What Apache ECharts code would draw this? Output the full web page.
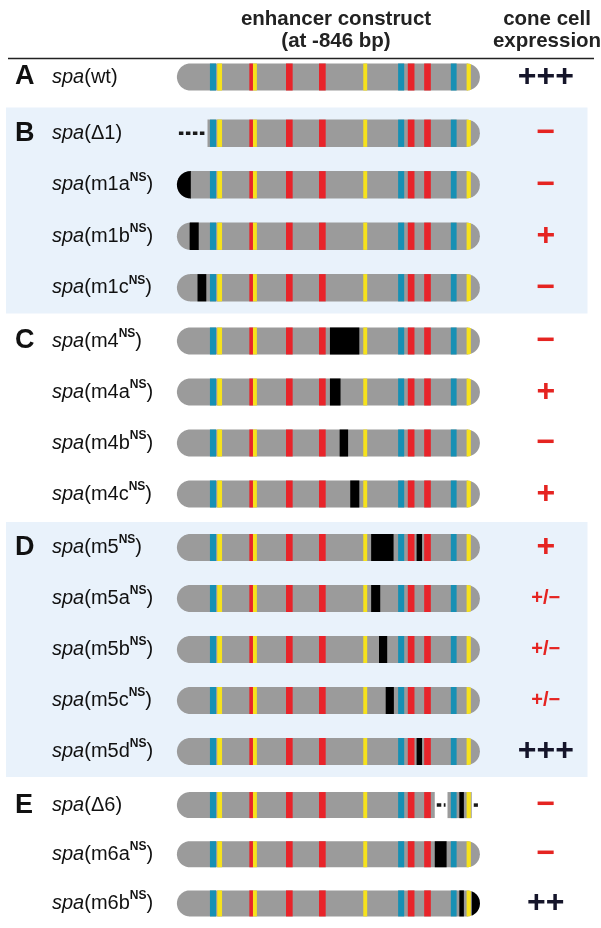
<!DOCTYPE html>
<html>
<head>
<meta charset="utf-8">
<script src="https://cdn.jsdelivr.net/npm/echarts@6/dist/echarts.min.js"></script>
<style>
html, body { margin: 0; background: #fff; }
#main { width: 601px; height: 928px; }
</style>
</head>
<body>
<div id="main"></div>
<script>
// constructs, top to bottom
const rowNames = ['wt', 'Δ1', 'm1aNS', 'm1bNS', 'm1cNS', 'm4NS', 'm4aNS', 'm4bNS', 'm4cNS',
	'm5NS', 'm5aNS', 'm5bNS', 'm5cNS', 'm5dNS', 'Δ6', 'm6aNS', 'm6bNS'];
const rowGroup = ['A', 'B', 'B', 'B', 'B', 'C', 'C', 'C', 'C', 'D', 'D', 'D', 'D', 'D', 'E', 'E', 'E'];
const expression = ['+++', '−', '−', '+', '−', '−', '+', '−', '+', '+', '+/−', '+/−', '+/−', '+++', '−', '−', '++'];

// binding sites on the wild-type enhancer (0 = left end, 100 = right end)
const siteStart = [10.9, 13.3, 23.9, 25.1, 36.0, 46.9, 61.5, 73.0, 76.2, 81.6, 90.4, 95.6];
const siteEnd = [12.9, 14.9, 25.1, 26.4, 38.2, 49.1, 62.8, 75.0, 78.4, 83.8, 92.3, 97.0];
const siteType = ['blue', 'yellow', 'red', 'yellow', 'red', 'red', 'yellow', 'blue', 'red', 'red', 'blue', 'yellow'];

// mutated (NS) stretches, by row index
const mutRow = [2, 3, 4, 5, 6, 7, 8, 9, 9, 10, 11, 12, 13, 14, 15, 16, 16];
const mutStart = [0, 4.2, 6.8, 50.5, 50.5, 53.7, 57.2, 64.1, 79.1, 64.1, 66.7, 68.9, 79.1, 93.2, 85.1, 93.2, 97.3];
const mutEnd = [4.6, 7.2, 9.7, 60.2, 54.0, 56.5, 60.2, 71.5, 80.9, 67.1, 69.4, 71.6, 80.9, 94.7, 89.0, 94.7, 100];

// deleted stretches, by row index
const delRow = [1, 14, 14];
const delStart = [0, 85.1, 97.3];
const delEnd = [10.1, 89.3, 100];

// layout
const groups = ['A', 'B', 'C', 'D', 'E'];
const groupTop = [51.5, 107.5, 315.5, 522, 780.5];
const rowStep = [51, 51.5, 51, 51, 51];
const shaded = [false, true, false, true, false];
const font = '"Liberation Sans", Arial, Helvetica, sans-serif';
const siteColor = { blue: '#1790b4', yellow: '#f6e21c', red: '#e8242a' };
const gray = '#9b9b9b';
const red = '#e52421';

const renderRow = (params, api) => {
	const cat = api.value(1);
	const row = api.value(2);
	const cy = api.coord([0, cat])[1];
	const R = api.size([0, 1])[1] * 0.265;
	const X = u => api.coord([u, cat])[0];

	// what is left of the construct after deletions
	const dels = [];
	delRow.forEach((r, i) => { if (r === row) dels.push([delStart[i], delEnd[i]]); });
	dels.sort((a, b) => a[0] - b[0]);
	const pieces = [];
	let s = 0;
	dels.forEach(d => {
		if (d[0] > s) pieces.push([s, d[0]]);
		s = Math.max(s, d[1]);
	});
	if (s < 100) pieces.push([s, 100]);
	const pcs = pieces.map(p => ({ x0: X(p[0]), x1: X(p[1]), rl: p[0] === 0, rr: p[1] === 100 }));

	const halfH = (pc, x) => {
		if (pc.rl && x < pc.x0 + R) {
			const d = pc.x0 + R - x;
			return Math.sqrt(Math.max(0, R * R - d * d));
		}
		if (pc.rr && x > pc.x1 - R) {
			const d = x - (pc.x1 - R);
			return Math.sqrt(Math.max(0, R * R - d * d));
		}
		return R;
	};

	const children = [];
	const slice = (pc, a, b, color) => {
		a = Math.max(a, pc.x0);
		b = Math.min(b, pc.x1);
		if (b - a <= 0.01) return;
		const xs = [a];
		for (let x = Math.floor(a) + 0.5; x < b; x += 0.5) if (x > a) xs.push(x);
		xs.push(b);
		const top = xs.map(x => [x, cy - halfH(pc, x)]);
		const bot = xs.slice().reverse().map(x => [x, cy + halfH(pc, x)]);
		children.push({ type: 'polygon', shape: { points: top.concat(bot) }, style: { fill: color } });
	};

	pcs.forEach(pc => {
		slice(pc, pc.x0, pc.x1, gray);
		siteStart.forEach((a, i) => slice(pc, X(a), X(siteEnd[i]), siteColor[siteType[i]]));
		mutRow.forEach((r, i) => { if (r === row) slice(pc, X(mutStart[i]), X(mutEnd[i]), '#000'); });
	});
	dels.forEach(d => {
		children.push({
			type: 'line',
			shape: { x1: X(d[0]) + 2, y1: cy, x2: X(d[1]) - 2, y2: cy },
			style: { stroke: '#1a1a1a', lineWidth: 3.5, lineDash: [4.5, 2.5] }
		});
	});
	return { type: 'group', children };
};

const labelText = (name, letter) => {
	const g = '{g|' + (letter || '\u00a0') + '}';
	if (name.endsWith('NS')) return g + '{i|spa}{t|(' + name.slice(0, -2) + '}{s|NS}{t|)}';
	return g + '{i|spa}{t|(' + name + ')}';
};

const exprText = e => {
	if (e === '+++' || e === '++') return '{k|' + e + '}';
	if (e === '+/−') return '{p|' + e + '}';
	return '{r|' + e + '}';
};

const grid = [], xAxis = [], yAxis = [], series = [];
groups.forEach((g, gi) => {
	const rows = [];
	rowGroup.forEach((rg, i) => { if (rg === g) rows.push(i); });
	const names = rows.map(i => rowNames[i]);
	grid.push({
		left: 6, right: 13.5, top: groupTop[gi], height: rows.length * rowStep[gi],
		show: shaded[gi], backgroundColor: '#e9f2fb', borderWidth: 0
	});
	xAxis.push({ gridIndex: gi, type: 'value', min: -56.4, max: 135.5, show: false });
	yAxis.push({
		gridIndex: gi, type: 'category', inverse: true, data: names,
		axisLine: { show: false }, axisTick: { show: false }, splitLine: { show: false },
		axisLabel: {
			inside: true, margin: 9, align: 'left', interval: 0, color: '#111',
			formatter: (v, idx) => labelText(v, idx === 0 ? g : ''),
			rich: {
				g: { fontFamily: font, fontSize: 27, fontWeight: 'bold', width: 37, color: '#111' },
				i: { fontFamily: font, fontSize: 20, fontStyle: 'italic', color: '#111' },
				t: { fontFamily: font, fontSize: 20, color: '#111' },
				s: { fontFamily: font, fontSize: 12, fontWeight: 'bold', color: '#111', verticalAlign: 'top', lineHeight: 14 }
			}
		}
	});
	yAxis.push({
		gridIndex: gi, type: 'category', position: 'right', inverse: true, data: names,
		axisLine: { show: false }, axisTick: { show: false }, splitLine: { show: false },
		axisLabel: {
			inside: true, margin: 41.7, align: 'center', interval: 0,
			formatter: (v, idx) => exprText(expression[rows[idx]]),
			rich: {
				k: { fontFamily: font, fontSize: 32, fontWeight: 'bold', color: '#15152a' },
				r: { fontFamily: font, fontSize: 32, fontWeight: 'bold', color: red },
				p: { fontFamily: font, fontSize: 20, fontWeight: 'bold', color: red }
			}
		}
	});
	series.push({
		type: 'custom', xAxisIndex: gi, yAxisIndex: gi * 2, silent: true,
		data: rows.map((r, k) => [0, k, r]),
		encode: { x: 0, y: 1 },
		renderItem: renderRow
	});
});

const chart = echarts.init(document.getElementById('main'));
chart.setOption({
	animation: false,
	backgroundColor: '#fff',
	title: [
		{
			text: 'enhancer construct\n(at -846 bp)', left: 331, top: 3, textAlign: 'center',
			textStyle: { fontFamily: font, fontSize: 20.5, fontWeight: 'bold', lineHeight: 22, color: '#222' }
		},
		{
			text: 'cone cell\nexpression', left: 542, top: 3, textAlign: 'center',
			textStyle: { fontFamily: font, fontSize: 20.5, fontWeight: 'bold', lineHeight: 22, color: '#222' }
		}
	],
	graphic: [
		{ type: 'line', shape: { x1: 8, y1: 58.5, x2: 594, y2: 58.5 }, style: { stroke: '#222', lineWidth: 1.5 } }
	],
	grid, xAxis, yAxis, series
});
</script>
</body>
</html>
